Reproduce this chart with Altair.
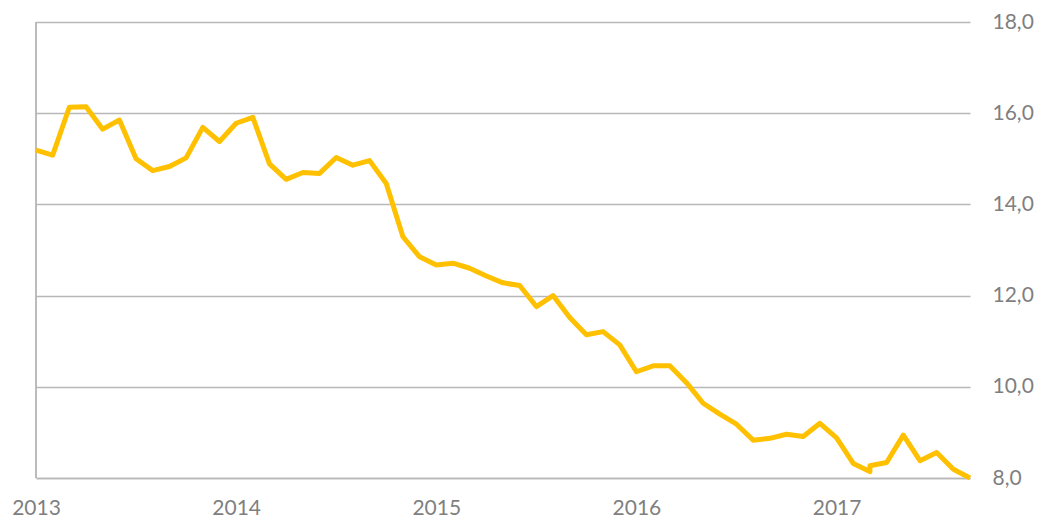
import altair as alt
import pandas as pd

# month offset from Jan 2013 (index 50 appears twice: small hook in the original line)
months = [0, 1, 2, 3, 4, 5, 6, 7, 8, 9, 10, 11,
          12, 13, 14, 15, 16, 17, 18, 19, 20, 21, 22, 23,
          24, 25, 26, 27, 28, 29, 30, 31, 32, 33, 34, 35,
          36, 37, 38, 39, 40, 41, 42, 43, 44, 45, 46, 47,
          48, 49, 50, 50, 51, 52, 53, 54, 55, 56]
values = [15.19, 15.08, 16.13, 16.14, 15.65, 15.85, 15.00, 14.74, 14.83, 15.02, 15.69, 15.38,
          15.78, 15.91, 14.89, 14.55, 14.70, 14.68, 15.03, 14.86, 14.96, 14.46, 13.29, 12.85,
          12.67, 12.71, 12.60, 12.43, 12.28, 12.22, 11.76, 12.00, 11.52, 11.14, 11.21, 10.92,
          10.33, 10.46, 10.46, 10.09, 9.64, 9.40, 9.18, 8.83, 8.87, 8.96, 8.91, 9.20,
          8.88, 8.32, 8.14, 8.27, 8.34, 8.94, 8.38, 8.56, 8.19, 8.00]
year_ticks = [2013, 2014, 2015, 2016, 2017]
y_ticks = [8, 10, 12, 14, 16, 18]

df = pd.DataFrame({
    "order": list(range(len(months))),
    "year": [2013 + m / 12 for m in months],
    "value": values,
})

FONT = "Lato"
LABEL = "#7F7F7F"
GRID = "#B8B8B8"

x_scale = alt.Scale(domain=[2013, 2013 + 56 / 12], nice=False, zero=False)
y_scale = alt.Scale(domain=[8, 18], nice=False, zero=False)

x_axis = alt.Axis(values=year_ticks, format="d", title=None, grid=False,
                  ticks=False, domain=True, domainColor=GRID, domainWidth=1.5,
                  labelFont=FONT, labelFontSize=21, labelColor=LABEL,
                  labelPadding=19, labelFlush=False)
y_axis = alt.Axis(orient="right", values=y_ticks, ticks=False, domain=False,
                  grid=True, gridColor=GRID, gridWidth=1.5, title=None,
                  labelExpr="replace(format(datum.value, '.1f'), '.', ',')",
                  labelFont=FONT, labelFontSize=21, labelColor=LABEL,
                  labelPadding=22, labelAlign="left", labelBaseline="middle")

line = alt.Chart(df).mark_line(color="#FFC000", strokeWidth=5, strokeJoin="round").encode(
    x=alt.X("year:Q", scale=x_scale, axis=x_axis),
    y=alt.Y("value:Q", scale=y_scale, axis=y_axis),
    order="order:Q",
)

# left vertical axis line at the start of the time range
left_rule = alt.Chart(pd.DataFrame({"year": [year_ticks[0]]})).mark_rule(
    color="#A6A6A6", strokeWidth=1.5
).encode(x=alt.X("year:Q", scale=x_scale, axis=x_axis))

chart = alt.layer(left_rule, line).properties(
    width=934, height=456,
    background="white",
    autosize=alt.AutoSizeParams(type="none"),
    padding={"left": 28, "top": 14, "right": 64, "bottom": 40},
).configure_view(stroke=None, strokeWidth=0)

chart.save("out.html", embed_options={"renderer": "svg", "actions": False})
